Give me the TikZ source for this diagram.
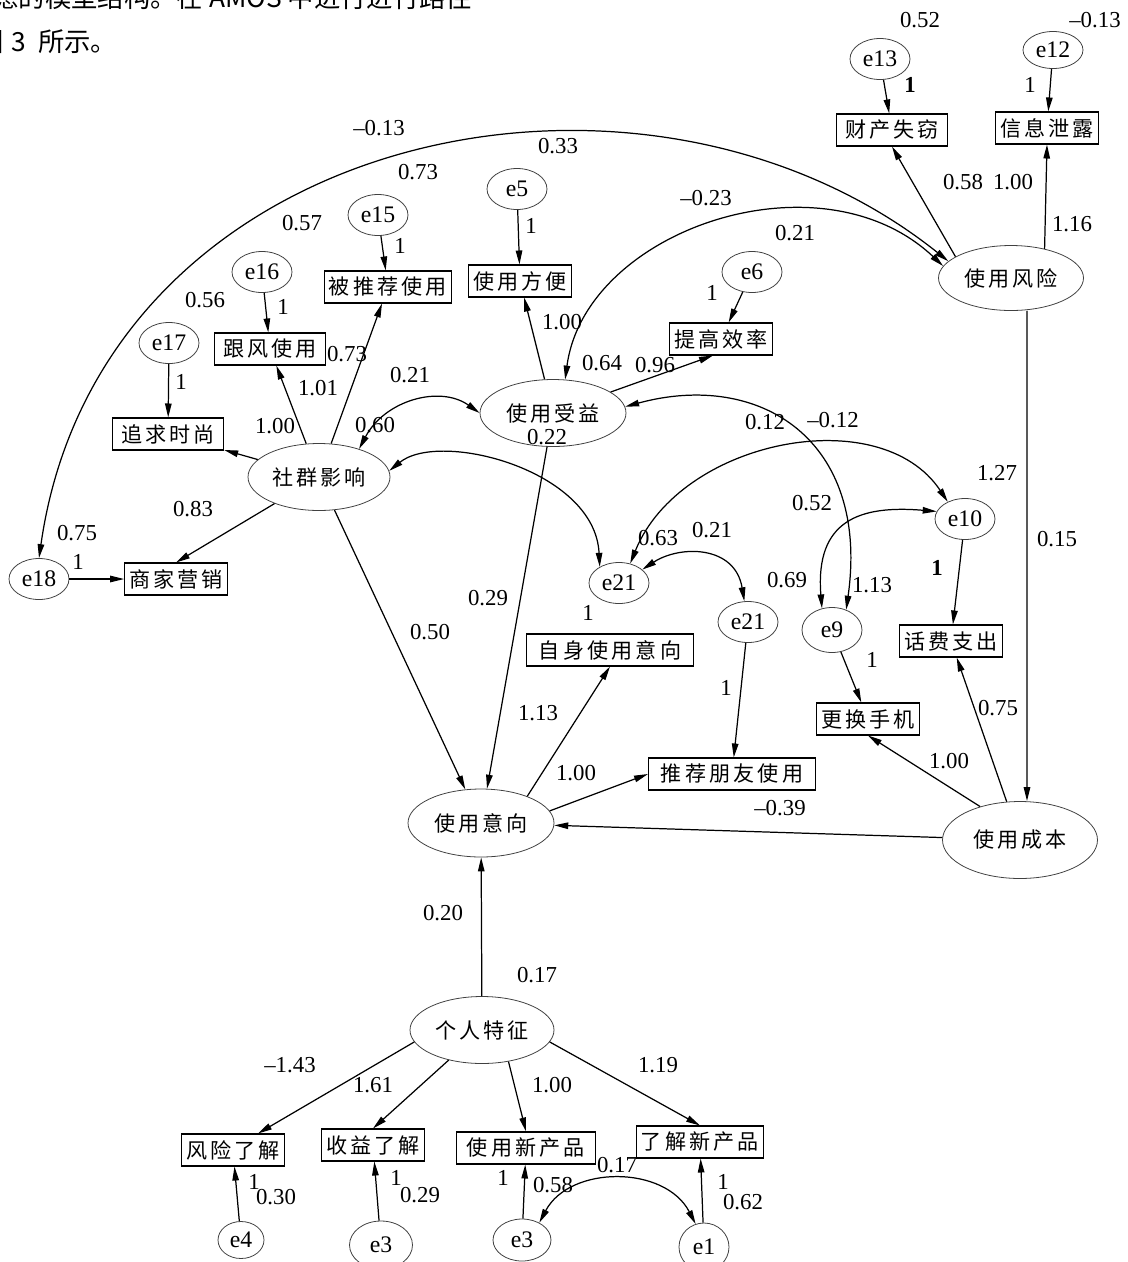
\documentclass[tikz,border=0pt]{standalone}
\usepackage{fontspec}
\setmainfont{Liberation Serif}
\newfontfamily\hei[LetterSpace=15]{Noto Sans CJK SC}
\newfontfamily\heichu{Noto Sans CJK SC}
\usetikzlibrary{arrows.meta,shapes.geometric}

\begin{document}
\begin{tikzpicture}[>={Triangle[length=0.28cm,width=0.13cm]},x=0.02cm,y=-0.02cm,
	bien/.style={ellipse,draw=black!75,line width=0.45pt,inner sep=0pt,font=\hei\fontsize{12}{14}\selectfont},
	sai/.style={ellipse,draw=black!75,line width=0.45pt,inner sep=0pt,minimum width=1.2cm,minimum height=0.82cm,font=\fontsize{13.5}{15}\selectfont},
	khung/.style={draw,line width=0.6pt,inner xsep=2.5pt,inner ysep=1pt,minimum height=0.64cm,font=\hei\fontsize{12}{14}\selectfont},
	so/.style={inner sep=0pt,font=\fontsize{13}{15}\selectfont},
	mt/.style={->,line width=0.7pt},
	cung/.style={<->,line width=0.7pt}]
			\useasboundingbox (0,0) rectangle (1127,1262);
			%Chu tren
			\node[anchor=west,inner sep=0pt,font=\heichu\fontsize{15}{17}\selectfont] (dong1) at (-8,-3) {虑的模型结构。在 AMOS 中进行进行路径};
			\node[anchor=west,inner sep=0pt,font=\heichu\fontsize{15}{17}\selectfont] (dong2) at (-23,42) {图\hskip0.3em 3\hskip0.45em 所示。};
			%Bien an
			\node[bien,minimum width=2.9cm,minimum height=1.3cm] (fengxian) at (1011,278) {使用风险};
			\node[bien,minimum width=2.92cm,minimum height=1.34cm] (shouyi) at (553,413) {使用受益};
			\node[bien,minimum width=2.84cm,minimum height=1.34cm] (shequn) at (319,477) {社群影响};
			\node[bien,minimum width=2.92cm,minimum height=1.36cm] (yixiang) at (481,823) {使用意向};
			\node[bien,minimum width=3.1cm,minimum height=1.54cm] (chengben) at (1020,840) {使用成本};
			\node[bien,minimum width=2.88cm,minimum height=1.34cm] (tezheng) at (482,1030) {个人特征};
			%Khung
			\node[khung,inner xsep=5pt] (caichan) at (892,130) {财产失窃};
			\node[khung] (xinxi) at (1047,128) {信息泄露};
			\node[khung] (beituijian) at (388,287) {被推荐使用};
			\node[khung] (fangbian) at (520,281) {使用方便};
			\node[khung] (xiaolv) at (721,339) {提高效率};
			\node[khung,inner xsep=5pt] (genfeng) at (270,349) {跟风使用};
			\node[khung,inner xsep=5pt] (shishang) at (168,434) {追求时尚};
			\node[khung] (yingxiao) at (176,579) {商家营销};
			\node[khung] (huafei) at (951,641) {话费支出};
			\node[khung] (shouji) at (868,719) {更换手机};
			\node[khung,inner xsep=7pt] (zishen) at (610,650) {自身使用意向};
			\node[khung,inner xsep=7pt] (tuijian) at (732,774) {推荐朋友使用};
			\node[khung] (fxlj) at (233,1150) {风险了解};
			\node[khung] (sylj) at (373,1145) {收益了解};
			\node[khung,inner xsep=6pt] (syxcp) at (526,1148) {使用新产品};
			\node[khung] (ljxcp) at (700,1142) {了解新产品};
			%Sai so
			\node[sai] (e13) at (880,59) {e13};
			\node[sai,minimum height=0.74cm] (e12) at (1053,50) {e12};
			\node[sai] (e15) at (378,215) {e15};
			\node[sai] (e5) at (517,189) {e5};
			\node[sai] (e16) at (262,272) {e16};
			\node[sai] (e6) at (752,272) {e6};
			\node[sai] (e17) at (169,343) {e17};
			\node[sai] (e18) at (39,579) {e18};
			\node[sai] (e21a) at (619,583) {e21};
			\node[sai] (e21b) at (748,622) {e21};
			\node[sai,minimum height=0.9cm] (e9) at (832,630) {e9};
			\node[sai] (e10) at (965,519) {e10};
			\node[sai,minimum width=0.92cm,minimum height=0.74cm] (e4) at (241,1240) {e4};
			\node[sai,minimum width=1.26cm,minimum height=0.96cm] (e3a) at (381,1245) {e3};
			\node[sai,minimum width=1.16cm,minimum height=0.84cm] (e3b) at (522,1240) {e3};
			\node[sai,minimum width=1cm,minimum height=0.96cm] (e1) at (704,1247) {e1};
			%Mui ten sai so
			\draw[mt] (e13) -- (caichan);
			\draw[mt] (e12) -- (xinxi);
			\draw[mt] (e15) -- (beituijian);
			\draw[mt] (e5) -- (fangbian);
			\draw[mt] (e16) -- (genfeng);
			\draw[mt] (e6) -- (xiaolv);
			\draw[mt] (e17) -- (shishang);
			\draw[mt] (e18) -- (yingxiao);
			\draw[mt] (e10) -- (huafei);
			\draw[mt] (e9) -- (shouji);
			\draw[mt] (e21b) -- (tuijian);
			\draw[mt] (e4) -- (fxlj);
			\draw[mt] (e3a) -- (sylj);
			\draw[mt] (e3b) -- (syxcp);
			\draw[mt] (e1) -- (ljxcp);
			%Mui ten bien an
			\draw[mt] (fengxian.159) -- (caichan.south);
			\draw[mt] (fengxian.41) -- (xinxi.south);
			\draw[mt] ([xshift=0.32cm]fengxian.south) -- ([xshift=0.14cm]chengben.north);
			\draw[mt] (shouyi) -- (fangbian);
			\draw[mt] (shouyi.20) -- ([xshift=-0.16cm]xiaolv.south);
			\draw[mt] (shequn) -- (beituijian);
			\draw[mt] (shequn) -- (genfeng);
			\draw[mt] (shequn) -- (shishang);
			\draw[mt] (shequn) -- (yingxiao.north);
			\draw[mt] (shequn) -- (yixiang);
			\draw[mt] (shouyi) -- (yixiang);
			\draw[mt] (chengben) -- (huafei);
			\draw[mt] (chengben.140) -- (shouji.south);
			\draw[mt] (chengben) -- (yixiang);
			\draw[mt] (yixiang.30) -- (zishen.south);
			\draw[mt] (yixiang.10) -- (tuijian.west);
			\draw[mt] (tezheng) -- (yixiang);
			\draw[mt] (tezheng.190) -- ([xshift=0.5cm]fxlj.north);
			\draw[mt] (tezheng) -- (sylj.north);
			\draw[mt] (tezheng.-50) -- (syxcp.north);
			\draw[mt] (tezheng.-10) -- (ljxcp.north);
			%Cung hai chieu
			\draw[cung] (e18.north) .. controls (100,130) and (640,15) .. (fengxian.165);
			\draw[cung] (shouyi.70) .. controls (585,230) and (820,150) .. (fengxian.170);
			\draw[cung] (shequn.35) .. controls (385,400) and (440,385) .. (shouyi.west);
			\draw[cung] (shequn.5) .. controls (440,430) and (595,470) .. (e21a.140);
			\draw[cung] (shouyi.5) .. controls (760,370) and (870,440) .. (e9.55);
			\draw[cung] (e21a.60) .. controls (680,440) and (880,400) .. (e10.135);
			\draw[cung] (e9.115) .. controls (815,520) and (860,505) .. (e10.165);
			\draw[cung] (e21a.30) .. controls (680,545) and (735,545) .. (e21b.100);
			\draw[cung] (e3b.45) .. controls (570,1165) and (665,1165) .. (e1.110);
			%So lieu
			\node[so] (n1) at (920,20) {0.52};
			\node[so] (n2) at (1095,20) {--0.13};
			\node[so] (n3) at (910,85) {\textbf{1}};
			\node[so] (n4) at (1030,85) {1};
			\node[so] (n5) at (963,182) {0.58};
			\node[so] (n6) at (1013,182) {1.00};
			\node[so] (n7) at (1072,224) {1.16};
			\node[so] (n8) at (379,128) {--0.13};
			\node[so] (n9) at (558,146) {0.33};
			\node[so] (n10) at (418,172) {0.73};
			\node[so] (n11) at (706,198) {--0.23};
			\node[so] (n12) at (795,233) {0.21};
			\node[so] (n13) at (531,226) {1};
			\node[so] (n14) at (400,246) {1};
			\node[so] (n15) at (302,223) {0.57};
			\node[so] (n16) at (283,307) {1};
			\node[so] (n17) at (205,300) {0.56};
			\node[so] (n18) at (712,293) {1};
			\node[so] (n19) at (181,382) {1};
			\node[so] (n20) at (347,354) {0.73};
			\node[so] (n21) at (318,388) {1.01};
			\node[so] (n22) at (562,322) {1.00};
			\node[so] (n23) at (602,363) {0.64};
			\node[so] (n24) at (655,365) {0.96};
			\node[so] (n25) at (410,375) {0.21};
			\node[so] (n26) at (375,425) {0.60};
			\node[so] (n27) at (547,437) {0.22};
			\node[so] (n28) at (275,426) {1.00};
			\node[so] (n29) at (765,422) {0.12};
			\node[so] (n30) at (833,420) {--0.12};
			\node[so] (n31) at (997,473) {1.27};
			\node[so] (n32) at (193,509) {0.83};
			\node[so] (n33) at (77,533) {0.75};
			\node[so] (n34) at (78,562) {1};
			\node[so] (n35) at (812,503) {0.52};
			\node[so] (n36) at (658,538) {0.63};
			\node[so] (n37) at (712,530) {0.21};
			\node[so] (n38) at (1057,539) {0.15};
			\node[so] (n39) at (787,580) {0.69};
			\node[so] (n40) at (872,585) {1.13};
			\node[so] (n41) at (937,568) {\textbf{1}};
			\node[so] (n42) at (488,598) {0.29};
			\node[so] (n43) at (588,613) {1};
			\node[so] (n44) at (430,632) {0.50};
			\node[so] (n45) at (872,660) {1};
			\node[so] (n46) at (726,688) {1};
			\node[so] (n47) at (538,713) {1.13};
			\node[so] (n48) at (998,708) {0.75};
			\node[so] (n49) at (576,773) {1.00};
			\node[so] (n50) at (949,761) {1.00};
			\node[so] (n51) at (780,808) {--0.39};
			\node[so] (n52) at (443,913) {0.20};
			\node[so] (n53) at (537,975) {0.17};
			\node[so] (n54) at (290,1065) {--1.43};
			\node[so] (n55) at (373,1085) {1.61};
			\node[so] (n56) at (552,1085) {1.00};
			\node[so] (n57) at (658,1065) {1.19};
			\node[so] (n58) at (254,1182) {1};
			\node[so] (n59) at (276,1197) {0.30};
			\node[so] (n60) at (396,1178) {1};
			\node[so] (n61) at (420,1195) {0.29};
			\node[so] (n62) at (503,1178) {1};
			\node[so] (n63) at (553,1185) {0.58};
			\node[so] (n64) at (617,1165) {0.17};
			\node[so] (n65) at (723,1182) {1};
			\node[so] (n66) at (743,1202) {0.62};
		\end{tikzpicture}
\end{document}
